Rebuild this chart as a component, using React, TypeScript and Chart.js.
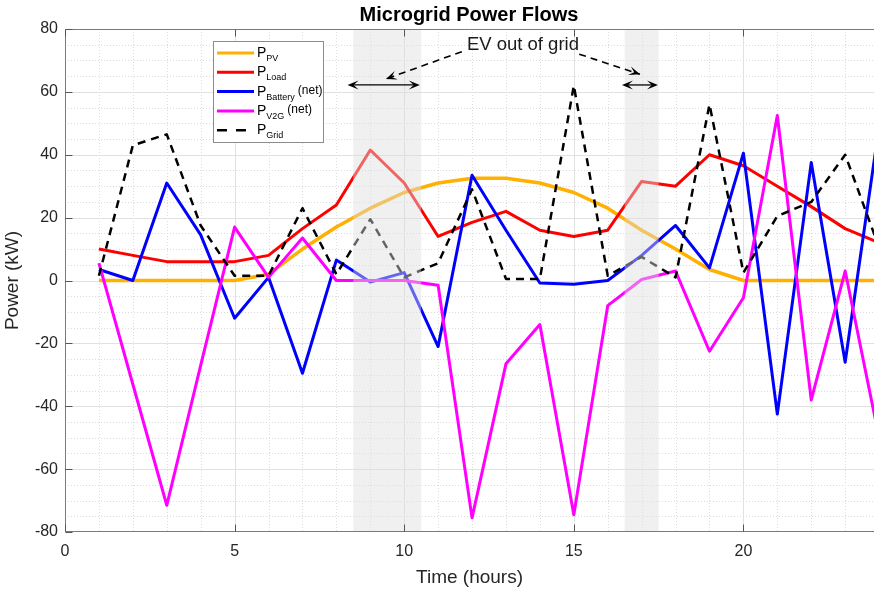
import React, { useEffect, useRef } from 'react';
import { Chart, registerables } from 'chart.js';

Chart.register(...registerables);

// ---------- data ----------
const hours = [1, 2, 3, 4, 5, 6, 7, 8, 9, 10, 11, 12, 13, 14, 15, 16, 17, 18, 19, 20, 21, 22, 23, 24];
const pPV = [0, 0, 0, 0, 0, 2, 10, 17, 23, 28, 31, 32.5, 32.5, 31, 28, 23, 16, 10, 3.5, 0, 0, 0, 0, 0];
const pLoad = [10, 8, 6, 6, 6, 8, 16.5, 24, 41.5, 31, 14, 18.5, 22, 16, 14, 16, 31.5, 30, 40, 36.5, 30, 23.5, 16.5, 12];
const pBattery = [3.5, 0, 31, 14.5, -12, 1, -29.5, 6.5, -0.5, 2.5, -21, 33.5, 16, -0.8, -1.2, 0, 8, 17.5, 4, 40.5, -42.5, 37.5, -26, 49];
const pV2G = [5.5, -33, -71.5, -27, 17, 1, 13.5, 0, 0, 0, -1.5, -75.5, -26.5, -14, -74.5, -8, 0.3, 3, -22.5, -5.5, 52.5, -38, 3, -50];
const pGrid = [1.5, 43, 46.5, 17.5, 1.5, 1.5, 23, 2, 19.5, 1, 5.5, 29, 0.5, 0.5, 62, 1.5, 7.5, 1, 56, 2.5, 20.5, 25, 40, 10.5];

const xTicks = [0, 5, 10, 15, 20];
const yTicks = [-80, -60, -40, -20, 0, 20, 40, 60, 80];

// EV out of grid windows (hours)
const evWindows = [[8.5, 10.5], [16.5, 17.5]];
const evSpanArrows = [[8.33, 10.46], [16.42, 17.48]];
const evSpanY = 62.2;
const evLabel = 'EV out of grid';
const evLabelPos = [13.5, 74.8];
const evPointers = [[11.7, 72.8, 9.46, 64.1], [15.16, 72, 16.95, 65.6]];

const titleText = 'Microgrid Power Flows';
const xTitle = 'Time (hours)';
const yTitle = 'Power (kW)';

const legendItems = [
  { main: 'P', sub: 'PV', suffix: '', color: '#FFB000', dash: [] as number[] },
  { main: 'P', sub: 'Load', suffix: '', color: '#FF0000', dash: [] as number[] },
  { main: 'P', sub: 'Battery', suffix: '(net)', color: '#0000FF', dash: [] as number[] },
  { main: 'P', sub: 'V2G', suffix: '(net)', color: '#FF00FF', dash: [] as number[] },
  { main: 'P', sub: 'Grid', suffix: '', color: '#000000', dash: [10, 9] },
];

const FONT = '"Liberation Sans", Arial, Helvetica, sans-serif';

function pts(vals: number[]) {
  return hours.map((h, i) => ({ x: h, y: vals[i] }));
}

function arrowHead(ctx: CanvasRenderingContext2D, x1: number, y1: number, x2: number, y2: number, len = 10, half = 4.5) {
  const a = Math.atan2(y2 - y1, x2 - x1);
  const c = Math.cos(a), s = Math.sin(a);
  const bx = x2 - len * c, by = y2 - len * s;
  const nx = -s, ny = c;
  const mx = x2 - len * 0.55 * c, my = y2 - len * 0.55 * s;
  ctx.beginPath();
  ctx.moveTo(x2, y2);
  ctx.lineTo(bx + half * nx, by + half * ny);
  ctx.lineTo(mx, my);
  ctx.lineTo(bx - half * nx, by - half * ny);
  ctx.closePath();
  ctx.fill();
}

const decorPlugin = {
  id: 'decor',
  beforeDatasetsDraw(chart: any) {
    const { ctx, chartArea, scales } = chart;
    const { left, right, top, bottom } = chartArea;
    const xs = scales.x, ys = scales.y;
    ctx.save();
    ctx.beginPath();
    ctx.rect(left, top, right - left, bottom - top);
    ctx.clip();
    // minor grid
    ctx.strokeStyle = '#dcdcdc';
    ctx.lineWidth = 1;
    ctx.setLineDash([1, 2]);
    for (let h = 1; h <= 24; h++) {
      if (h % 5 === 0) continue;
      const px = Math.round(xs.getPixelForValue(h)) + 0.5;
      ctx.beginPath(); ctx.moveTo(px, top); ctx.lineTo(px, bottom); ctx.stroke();
    }
    for (let v = -75; v < 80; v += 5) {
      if (v % 20 === 0) continue;
      const py = Math.round(ys.getPixelForValue(v)) + 0.5;
      ctx.beginPath(); ctx.moveTo(left, py); ctx.lineTo(right, py); ctx.stroke();
    }
    // major grid
    ctx.setLineDash([]);
    ctx.strokeStyle = '#e1e1e1';
    for (const h of xTicks) {
      const px = Math.round(xs.getPixelForValue(h)) + 0.5;
      ctx.beginPath(); ctx.moveTo(px, top); ctx.lineTo(px, bottom); ctx.stroke();
    }
    for (const v of yTicks) {
      const py = Math.round(ys.getPixelForValue(v)) + 0.5;
      ctx.beginPath(); ctx.moveTo(left, py); ctx.lineTo(right, py); ctx.stroke();
    }
    ctx.restore();
  },
  afterDatasetsDraw(chart: any) {
    const { ctx, chartArea, scales } = chart;
    const { left, right, top, bottom } = chartArea;
    const xs = scales.x, ys = scales.y;
    ctx.save();
    // shaded EV windows (overlay)
    ctx.fillStyle = 'rgba(222,222,222,0.45)';
    for (const [a, b] of evWindows) {
      const x1 = xs.getPixelForValue(a), x2 = xs.getPixelForValue(b);
      ctx.fillRect(x1, top, x2 - x1, bottom - top);
    }
    // axes box
    ctx.strokeStyle = '#7a7a7a';
    ctx.lineWidth = 1;
    ctx.beginPath();
    const L = Math.round(left) + 0.5, T = Math.round(top) + 0.5, B = Math.round(bottom) - 0.5;
    ctx.moveTo(right, T); ctx.lineTo(L, T); ctx.lineTo(L, B); ctx.lineTo(right, B);
    ctx.stroke();
    // inward ticks
    ctx.strokeStyle = '#555555';
    for (const v of yTicks) {
      const py = Math.round(ys.getPixelForValue(v)) + 0.5;
      ctx.beginPath(); ctx.moveTo(L, py); ctx.lineTo(L + 7, py); ctx.stroke();
    }
    for (const h of xTicks) {
      const px = Math.round(xs.getPixelForValue(h)) + 0.5;
      ctx.beginPath(); ctx.moveTo(px, T); ctx.lineTo(px, T + 7); ctx.stroke();
      ctx.beginPath(); ctx.moveTo(px, B); ctx.lineTo(px, B - 7); ctx.stroke();
    }

    // annotations
    ctx.fillStyle = '#000';
    ctx.strokeStyle = '#000';
    ctx.lineWidth = 1.3;
    for (const [a, b] of evSpanArrows) {
      const x1 = xs.getPixelForValue(a), x2 = xs.getPixelForValue(b);
      const y = ys.getPixelForValue(evSpanY);
      ctx.setLineDash([]);
      ctx.beginPath(); ctx.moveTo(x1 + 4, y); ctx.lineTo(x2 - 4, y); ctx.stroke();
      arrowHead(ctx, x2, y, x1, y, 11, 4.5);
      arrowHead(ctx, x1, y, x2, y, 11, 4.5);
    }
    ctx.lineWidth = 1.6;
    for (const [ax, ay, bx, by] of evPointers) {
      const x1 = xs.getPixelForValue(ax), y1 = ys.getPixelForValue(ay);
      const x2 = xs.getPixelForValue(bx), y2 = ys.getPixelForValue(by);
      ctx.setLineDash([7, 5]);
      ctx.beginPath(); ctx.moveTo(x1, y1); ctx.lineTo(x2, y2); ctx.stroke();
      ctx.setLineDash([]);
      arrowHead(ctx, x1, y1, x2, y2, 11, 4.5);
    }
    ctx.font = `18.5px ${FONT}`;
    ctx.textAlign = 'center';
    ctx.textBaseline = 'middle';
    ctx.fillStyle = '#1a1a1a';
    ctx.fillText(evLabel, xs.getPixelForValue(evLabelPos[0]), ys.getPixelForValue(evLabelPos[1]));

    // legend
    const bx0 = left + 148, by0 = top + 12, bw = 110, bh = 101;
    ctx.fillStyle = '#ffffff';
    ctx.fillRect(bx0, by0, bw, bh);
    ctx.strokeStyle = '#8c8c8c';
    ctx.lineWidth = 1;
    ctx.strokeRect(Math.round(bx0) + 0.5, Math.round(by0) + 0.5, bw, bh);
    legendItems.forEach((it, i) => {
      const ry = by0 + 12 + i * 19.3;
      ctx.strokeStyle = it.color;
      ctx.lineWidth = it.dash.length ? 2.5 : 3;
      ctx.setLineDash(it.dash);
      ctx.beginPath(); ctx.moveTo(bx0 + 4, ry); ctx.lineTo(bx0 + 41, ry); ctx.stroke();
      ctx.setLineDash([]);
      ctx.fillStyle = '#000';
      ctx.textAlign = 'left';
      ctx.textBaseline = 'alphabetic';
      let tx = bx0 + 44;
      ctx.font = `14px ${FONT}`;
      ctx.fillText(it.main, tx, ry + 4);
      tx += ctx.measureText(it.main).width;
      ctx.font = `9px ${FONT}`;
      ctx.fillText(it.sub, tx, ry + 8);
      tx += ctx.measureText(it.sub).width;
      if (it.suffix) {
        ctx.font = `12px ${FONT}`;
        ctx.fillText(it.suffix, tx + 3, ry + 2.5);
      }
    });

    // title
    ctx.font = `bold 20px ${FONT}`;
    ctx.textAlign = 'center';
    ctx.textBaseline = 'middle';
    ctx.fillStyle = '#000';
    ctx.fillText(titleText, 469, 15);
    ctx.restore();
  },
};

export default function App() {
  const ref = useRef<HTMLCanvasElement | null>(null);
  useEffect(() => {
    if (!ref.current) return;
    const mk = (label: string, vals: number[], color: string, order: number, extra: any = {}) => ({
      label,
      data: pts(vals),
      borderColor: color,
      backgroundColor: color,
      borderWidth: 3,
      pointRadius: 0,
      tension: 0,
      fill: false,
      order,
      borderJoinStyle: 'round',
      borderCapStyle: 'butt',
      ...extra,
    });
    const chart = new Chart(ref.current, {
      type: 'line',
      data: {
        datasets: [
          mk('PV', pPV, '#FFB000', 5, { borderWidth: 3.5 }),
          mk('Load', pLoad, '#FF0000', 4),
          mk('Battery', pBattery, '#0000FF', 3),
          mk('V2G', pV2G, '#FF00FF', 2),
          mk('Grid', pGrid, '#000000', 1, { borderDash: [8, 6], borderWidth: 2.5 }),
        ],
      },
      options: {
        animation: false,
        responsive: false,
        devicePixelRatio: 1,
        events: [],
        layout: { padding: { top: 29, right: 0, left: 0, bottom: 0 } },
        plugins: { legend: { display: false }, tooltip: { enabled: false }, title: { display: false } },
        scales: {
          x: {
            type: 'linear',
            min: 0,
            max: 23.85,
            grid: { display: false, drawTicks: false },
            border: { display: false },
            afterBuildTicks: (s: any) => { s.ticks = xTicks.map((v) => ({ value: v })); },
            afterFit: (s: any) => { s.height = 60; },
            ticks: {
              autoSkip: false,
              maxRotation: 0,
              padding: 10,
              color: '#262626',
              font: { family: FONT, size: 16 },
            },
            title: {
              display: true,
              text: xTitle,
              color: '#262626',
              font: { family: FONT, size: 19 },
              padding: { top: 0, bottom: 3 },
            },
          },
          y: {
            type: 'linear',
            min: -80,
            max: 80,
            grid: { display: false, drawTicks: false },
            border: { display: false },
            afterBuildTicks: (s: any) => { s.ticks = yTicks.map((v) => ({ value: v })); },
            afterFit: (s: any) => { s.width = 65; },
            ticks: {
              padding: 7,
              color: '#262626',
              font: { family: FONT, size: 16 },
            },
            title: {
              display: true,
              text: yTitle,
              color: '#262626',
              font: { family: FONT, size: 19 },
              padding: { top: 1, bottom: 0 },
            },
          },
        },
      } as any,
      plugins: [decorPlugin],
    });
    return () => chart.destroy();
  }, []);
  return (
    <div style={{ position: 'absolute', left: 0, top: 0, width: 874, height: 592, background: '#fff' }}>
      <canvas ref={ref} width={874} height={592} style={{ display: 'block' }} />
    </div>
  );
}
